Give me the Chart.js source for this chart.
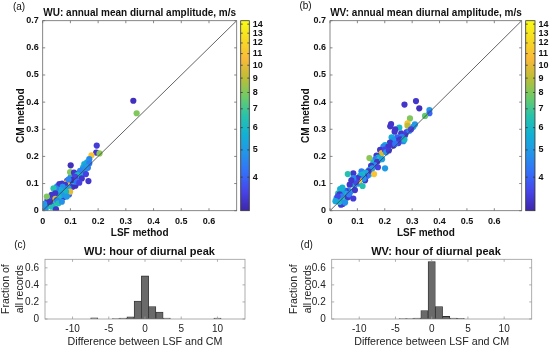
<!DOCTYPE html>
<html><head><meta charset="utf-8">
<script src="https://cdn.jsdelivr.net/npm/chart.js@4.4.1/dist/chart.umd.min.js"></script>
<style>
html,body{margin:0;padding:0;background:#fff;}
#wrap{position:relative;width:550px;height:350px;overflow:hidden;background:#fff;}
#wrap canvas{position:absolute;}
</style></head><body>
<div id="wrap"></div>
<script>
// ---------------- DATA ----------------
// Panel (a): WU annual mean diurnal amplitude (m/s): LSF method (x), CM method (y), colour value
const wuLsf = [0.110,0.120,0.128,0.138,0.150,0.146,0.158,0.163,0.108,0.115,0.102,0.095,0.090,0.078,0.075,0.066,0.070,0.078,0.060,0.055,0.050,0.042,0.036,0.028,0.020,0.062,0.075,0.085,0.095,0.108,0.118,0.128,0.133,0.113,0.100,0.088,0.070,0.065,0.052,0.058,0.040,0.017,0.011,0.030,0.082,
 0.327,0.339,0.195,0.193,0.205,0.176,0.168,0.160,0.150,0.168,0.155,0.145,0.101,0.099,0.113,0.135,0.125,0.156,0.165,0.141,0.117,0.105,0.123,0.132,0.087,0.093,0.081,0.060,0.072,0.093,0.099,0.084,0.063,0.048,0.039,0.069,0.087,0.057,0.045,0.032,0.015,0.039,0.046,0.051,0.014,0.024,0.008,0.032,0.045,0.048,0.057,0.069,0.026,0.005];
const wuCm = [0.130,0.118,0.125,0.132,0.145,0.160,0.168,0.158,0.120,0.100,0.095,0.090,0.098,0.086,0.078,0.082,0.068,0.062,0.064,0.072,0.058,0.050,0.036,0.040,0.030,0.045,0.050,0.060,0.060,0.088,0.092,0.115,0.140,0.108,0.122,0.110,0.100,0.092,0.090,0.040,0.028,0.038,0.008,0.022,0.077,
 0.405,0.359,0.240,0.214,0.211,0.204,0.190,0.178,0.172,0.174,0.163,0.152,0.167,0.142,0.140,0.147,0.131,0.135,0.109,0.119,0.125,0.113,0.107,0.103,0.103,0.115,0.095,0.098,0.088,0.082,0.070,0.070,0.076,0.082,0.082,0.058,0.052,0.052,0.064,0.058,0.052,0.045,0.044,0.039,0.021,0.027,0.015,0.015,0.009,0.005,0.027,0.033,0.033,0.025];
const wuWind = [3.4,4.8,3.3,5.2,5.4,5.8,5.0,4.4,3.3,3.6,4.4,3.3,5.2,5.6,3.3,4.4,5.3,4.6,5.8,3.3,4.8,5.0,5.6,6.2,4.4,4.2,3.3,5.5,4.0,3.3,3.2,4.0,5.5,5.8,4.8,3.5,3.3,6.4,5.0,5.4,6.8,3.4,5.2,4.6,6.2,
 3.2,8.0,3.4,3.3,8.2,11.0,4.6,5.2,5.6,4.4,5.0,4.8,3.2,8.0,3.3,4.5,6.0,3.5,3.3,3.3,3.5,3.2,4.2,3.5,10.5,4.5,3.3,3.3,4.8,5.0,10.0,6.0,5.5,4.5,6.5,5.0,5.0,6.0,3.3,3.3,8.0,3.4,10.0,4.6,5.5,3.3,4.8,6.5,6.0,3.3,6.5,4.8,3.3,5.0];

// Panel (b): WV
const wvLsf = [0.090,0.080,0.072,0.075,0.066,0.058,0.050,0.060,0.052,0.044,0.037,0.030,0.035,0.042,0.024,0.030,0.046,0.040,0.034,0.050,0.058,0.065,0.070,0.055,0.028,0.020,0.045,0.128,0.115,0.142,0.150,0.105,0.232,0.245,0.260,0.280,0.290,0.310,
 0.272,0.314,0.326,0.363,0.363,0.347,0.292,0.283,0.283,0.304,0.296,0.223,0.220,0.253,0.238,0.236,0.274,0.262,0.225,0.256,0.244,0.268,0.272,0.231,0.219,0.250,0.238,0.201,0.209,0.195,0.183,0.213,0.189,0.185,0.200,0.205,0.215,0.144,0.170,0.176,0.166,0.180,0.158,0.172,0.190,0.162,0.150,0.155,0.143,0.175,0.201,0.161,0.140,0.130,0.135,0.125,0.118,0.110,0.112,0.123,0.106,0.119,0.100,0.095,0.085,0.065,0.085,0.078,0.091,0.085];
const wvCm = [0.095,0.100,0.096,0.070,0.074,0.072,0.075,0.062,0.058,0.068,0.080,0.064,0.060,0.052,0.046,0.040,0.025,0.022,0.032,0.040,0.045,0.050,0.060,0.030,0.052,0.035,0.085,0.112,0.145,0.132,0.140,0.100,0.240,0.270,0.285,0.290,0.295,0.318,
 0.391,0.404,0.377,0.371,0.359,0.349,0.340,0.322,0.313,0.309,0.300,0.319,0.311,0.306,0.300,0.291,0.278,0.272,0.270,0.263,0.257,0.256,0.262,0.260,0.251,0.249,0.246,0.242,0.230,0.236,0.224,0.236,0.212,0.206,0.225,0.215,0.222,0.194,0.203,0.196,0.190,0.188,0.177,0.180,0.190,0.168,0.165,0.156,0.150,0.160,0.156,0.135,0.145,0.140,0.128,0.125,0.133,0.128,0.116,0.118,0.111,0.091,0.120,0.105,0.138,0.135,0.120,0.112,0.076,0.045];
const wvWind = [4.8,5.8,3.3,5.2,4.6,3.4,4.0,5.5,6.0,5.0,5.6,6.2,3.3,4.4,4.8,6.4,3.3,3.4,6.0,5.2,6.6,3.3,4.4,4.8,3.6,5.4,5.8,3.3,4.4,5.6,4.6,5.0,3.3,4.0,3.3,3.6,4.4,5.0,
 3.3,3.3,3.2,5.0,4.0,7.5,8.0,11.0,9.0,5.0,3.5,3.3,3.3,6.0,3.3,3.3,3.4,4.4,5.5,3.3,3.3,4.6,6.0,4.8,3.3,3.5,4.2,5.4,7.8,4.6,3.3,3.3,10.5,9.5,3.5,4.8,3.4,8.2,3.3,5.8,4.4,6.4,6.2,3.3,5.2,4.6,3.3,5.0,4.8,3.5,5.0,11.0,3.3,5.4,4.2,3.3,6.0,5.6,3.4,4.8,11.5,6.5,3.3,3.6,3.3,6.5,4.6,3.3,3.3,3.4];

// 1:1 reference line (data units)
const oneToOne = [0, 0.7];

// Histograms: hour of diurnal peak, difference LSF - CM (hours), fraction of records
const wuHourBins = [-7,-4,-3,-2,-1,0,1,2,3,10];
const wuHourFrac = [0.015,0.005,0.010,0.025,0.210,0.505,0.145,0.082,0.010,0.010];
const wvHourBins = [-4,-3,-2,-1,0,1,2,3,4];
const wvHourFrac = [0.005,0.005,0.010,0.100,0.672,0.145,0.030,0.012,0.008];

// Ticks
const ampTicksX = [0,0.1,0.2,0.3,0.4,0.5,0.6];
const ampTicksY = [0,0.1,0.2,0.3,0.4,0.5,0.6,0.7];
const cbarTicks = [4,5,6,7,8,9,10,11,12,13,14];
const histTicksX = [-10,-5,0,5,10];
const histTicksY = [0,0.2,0.4,0.6];
const CMIN = 3.04, CMAX = 14.4;

// ---------------- STYLE / HELPERS ----------------
const FONT = "'Liberation Sans', Arial, Helvetica, sans-serif";
Chart.defaults.font.family = FONT;
Chart.defaults.color = '#1a1a1a';
Chart.defaults.animation = false;

const PARULA = [[62,38,168],[71,68,232],[52,111,249],[36,148,233],[18,177,213],[40,195,170],[110,203,102],[190,189,54],[250,186,57],[246,218,35],[249,251,21]];
function parula(t){
  t = Math.max(0, Math.min(1, t));
  const n = PARULA.length - 1, f = t * n;
  const i = Math.min(n - 1, Math.floor(f)), u = f - i;
  const a = PARULA[i], b = PARULA[i + 1];
  return 'rgb(' + [0,1,2].map(k => Math.round(a[k] + (b[k] - a[k]) * u)).join(',') + ')';
}
function windColor(v){ return parula(Math.log(v / CMIN) / Math.log(CMAX / CMIN)); }
function fmt(v){ return v === 0 ? '0' : String(+v.toFixed(2)); }

const wrap = document.getElementById('wrap');
function makeCanvas(left, top, w, h){
  const c = document.createElement('canvas');
  c.width = w; c.height = h;
  c.style.left = left + 'px'; c.style.top = top + 'px';
  c.style.width = w + 'px'; c.style.height = h + 'px';
  wrap.appendChild(c);
  return c;
}

const boxPlugin = {
  id: 'box',
  afterDatasetsDraw(chart, args, o){
    const {ctx, chartArea: a} = chart;
    ctx.save();
    ctx.strokeStyle = o.color; ctx.lineWidth = o.width;
    ctx.strokeRect(a.left, a.top, a.right - a.left, a.bottom - a.top);
    ctx.beginPath();
    const L = o.tick;
    if (o.xticks) {
      const xs = chart.scales.x;
      xs.ticks.forEach(t => { const p = xs.getPixelForValue(t.value);
        ctx.moveTo(p, a.bottom); ctx.lineTo(p, a.bottom - L);
        ctx.moveTo(p, a.top); ctx.lineTo(p, a.top + L); });
    }
    const ys = chart.scales.y;
    ys.ticks.forEach(t => { const p = ys.getPixelForValue(t.value);
      ctx.moveTo(a.left, p); ctx.lineTo(a.left + L, p);
      ctx.moveTo(a.right, p); ctx.lineTo(a.right - L, p); });
    ctx.stroke();
    ctx.restore();
  }
};
const labelPlugin = {
  id: 'labels',
  afterDraw(chart, args, o){
    const ctx = chart.ctx;
    ctx.save();
    (o.items || []).forEach(it => {
      ctx.font = it.font; ctx.fillStyle = '#111';
      ctx.textAlign = 'center'; ctx.textBaseline = 'middle';
      ctx.fillText(it.text, it.x, it.y);
    });
    ctx.restore();
  }
};
const cbarPlugin = {
  id: 'cbar',
  beforeDatasetsDraw(chart){
    const {ctx, chartArea: a} = chart;
    const ys = chart.scales.y;
    const yb = ys.getPixelForValue(CMIN), yt = ys.getPixelForValue(CMAX);
    const g = ctx.createLinearGradient(0, yb, 0, yt);
    PARULA.forEach((c, i) => g.addColorStop(i / (PARULA.length - 1), 'rgb(' + c.join(',') + ')'));
    ctx.save();
    ctx.fillStyle = g;
    ctx.fillRect(a.left, yt, a.right - a.left, yb - yt);
    ctx.restore();
  }
};

// ---------------- SCATTER PANELS ----------------
function scatterPanel(cv, xs, ys, cs, L){
  const pts = xs.map((x, i) => ({x: x, y: ys[i]}));
  return new Chart(cv, {
    type: 'scatter',
    data: { datasets: [
      { type: 'line', data: oneToOne.map(v => ({x: v, y: v})), borderColor: '#3c3c3c', borderWidth: 0.8, pointRadius: 0, fill: false, order: 0 },
      { data: pts, pointRadius: 3.1, pointHoverRadius: 3.1, pointBorderWidth: 0, pointBackgroundColor: cs.map(windColor), order: 1 }
    ]},
    options: {
      responsive: false, animation: false, devicePixelRatio: 1,
      layout: { padding: { left: 0, top: L.top, right: L.right, bottom: 0 } },
      plugins: {
        legend: { display: false }, tooltip: { enabled: false },
        box: { color: '#6a6a6a', width: 0.8, tick: 2.5, xticks: true },
        labels: { items: L.items }
      },
      scales: {
        x: { type: 'linear', min: 0, max: 0.7,
          grid: { display: false, drawTicks: false }, border: { display: false },
          afterBuildTicks: s => { s.ticks = ampTicksX.map(v => ({value: v})); },
          afterFit: s => { s.height = L.xh; },
          ticks: { font: { size: 9, weight: 'bold' }, color: '#111', padding: 5, maxRotation: 0, autoSkip: false, callback: v => fmt(v) },
          title: { display: true, text: 'LSF method', color: '#111', font: { size: 10, weight: 'bold' }, padding: { top: 0, bottom: 0.7 } } },
        y: { type: 'linear', min: 0, max: 0.7,
          grid: { display: false, drawTicks: false }, border: { display: false },
          afterBuildTicks: s => { s.ticks = ampTicksY.map(v => ({value: v})); },
          afterFit: s => { s.width = L.yw; },
          ticks: { font: { size: 9, weight: 'bold' }, color: '#111', padding: 4, autoSkip: false, callback: v => fmt(v) },
          title: { display: true, text: 'CM method', color: '#111', font: { size: 10, weight: 'bold' }, padding: { top: L.ytitle, bottom: 0 } } }
      }
    },
    plugins: [boxPlugin, labelPlugin]
  });
}

function colorbar(cv, L){
  return new Chart(cv, {
    type: 'scatter',
    data: { datasets: [] },
    options: {
      responsive: false, animation: false, devicePixelRatio: 1,
      layout: { padding: { left: L.left, top: L.top, right: 0, bottom: L.bottom } },
      plugins: { legend: { display: false }, tooltip: { enabled: false },
        box: { color: '#333', width: 0.8, tick: 2, xticks: false } },
      scales: {
        x: { display: false },
        y: { type: 'logarithmic', position: 'right', min: CMIN, max: CMAX,
          grid: { display: false, drawTicks: false }, border: { display: false },
          afterBuildTicks: s => { s.ticks = cbarTicks.map(v => ({value: v})); },
          afterFit: s => { s.width = L.yw; },
          ticks: { font: { size: 9, weight: 'bold' }, color: '#111', padding: 3.4, autoSkip: false, callback: v => String(v) } }
      }
    },
    plugins: [cbarPlugin, boxPlugin]
  });
}

// ---------------- HISTOGRAM PANELS ----------------
function histPanel(cv, bins, vals, L){
  return new Chart(cv, {
    type: 'bar',
    data: { datasets: [{ data: bins.map((b, i) => ({x: b, y: vals[i]})),
      backgroundColor: '#6a6a6a', borderColor: '#2e2e2e', borderWidth: 0.8, borderSkipped: false,
      barPercentage: 1, categoryPercentage: 1 }] },
    options: {
      responsive: false, animation: false, devicePixelRatio: 1,
      layout: { padding: { left: 0, top: L.top, right: L.right, bottom: 0 } },
      plugins: { legend: { display: false }, tooltip: { enabled: false },
        box: { color: '#9a9a9a', width: 0.8, tick: 2.5, xticks: true },
        labels: { items: L.items } },
      scales: {
        x: { type: 'linear', min: -13.8, max: 13.8, offset: false,
          grid: { display: false, drawTicks: false }, border: { display: false },
          afterBuildTicks: s => { s.ticks = histTicksX.map(v => ({value: v})); },
          afterFit: s => { s.height = L.xh; },
          ticks: { font: { size: 10 }, color: '#222', padding: 4, maxRotation: 0, autoSkip: false, callback: v => String(v) },
          title: { display: true, text: 'Difference between LSF and CM', color: '#222', font: { size: 10.7 }, padding: { top: 0, bottom: 2 } } },
        y: { type: 'linear', min: 0, max: 0.7,
          grid: { display: false, drawTicks: false }, border: { display: false },
          afterBuildTicks: s => { s.ticks = histTicksY.map(v => ({value: v})); },
          afterFit: s => { s.width = L.yw; },
          ticks: { font: { size: 10 }, color: '#222', padding: 6, autoSkip: false, callback: v => fmt(v) },
          title: { display: true, text: ['Fraction of', 'all records'], color: '#222', font: { size: 10.5, lineHeight: 1.35 }, padding: { top: L.ytitle, bottom: 0 } } }
      }
    },
    plugins: [boxPlugin, labelPlugin]
  });
}

// ---------------- BUILD ----------------
scatterPanel(makeCanvas(0, 0, 240, 240), wuLsf, wuCm, wuWind, {
  top: 20.7, right: 3.3, xh: 29.3, yw: 42.7, ytitle: 15,
  items: [ { text: '(a)', x: 19, y: 7.5, font: '10px ' + FONT },
           { text: 'WU: annual mean diurnal amplitude, m/s', x: 139.7, y: 13.3, font: 'bold 10px ' + FONT } ]
});
colorbar(makeCanvas(238, 0, 37, 225), { left: 2.7, top: 20.7, bottom: 14.3, yw: 25.7 });

scatterPanel(makeCanvas(275, 0, 250, 240), wvLsf, wvCm, wvWind, {
  top: 20.7, right: 3.3, xh: 29.3, yw: 55, ytitle: 25.7,
  items: [ { text: '(b)', x: 30.5, y: 6.5, font: '10px ' + FONT },
           { text: 'WV: annual mean diurnal amplitude, m/s', x: 151, y: 13.3, font: 'bold 10px ' + FONT } ]
});
colorbar(makeCanvas(523, 0, 27, 225), { left: 2.7, top: 20.7, bottom: 14.3, yw: 15 });

histPanel(makeCanvas(0, 240, 250, 110), wuHourBins, wuHourFrac, {
  top: 19.3, right: 5, xh: 31, yw: 45, ytitle: -1,
  items: [ { text: '(c)', x: 20, y: 5, font: '10px ' + FONT },
           { text: 'WU: hour of diurnal peak', x: 149.5, y: 12.3, font: 'bold 11px ' + FONT } ]
});
histPanel(makeCanvas(275, 240, 275, 110), wvHourBins, wvHourFrac, {
  top: 19.3, right: 18.3, xh: 31, yw: 56.7, ytitle: 12,
  items: [ { text: '(d)', x: 31.7, y: 5, font: '10px ' + FONT },
           { text: 'WV: hour of diurnal peak', x: 161, y: 12.3, font: 'bold 11px ' + FONT } ]
});
</script>
</body></html>
